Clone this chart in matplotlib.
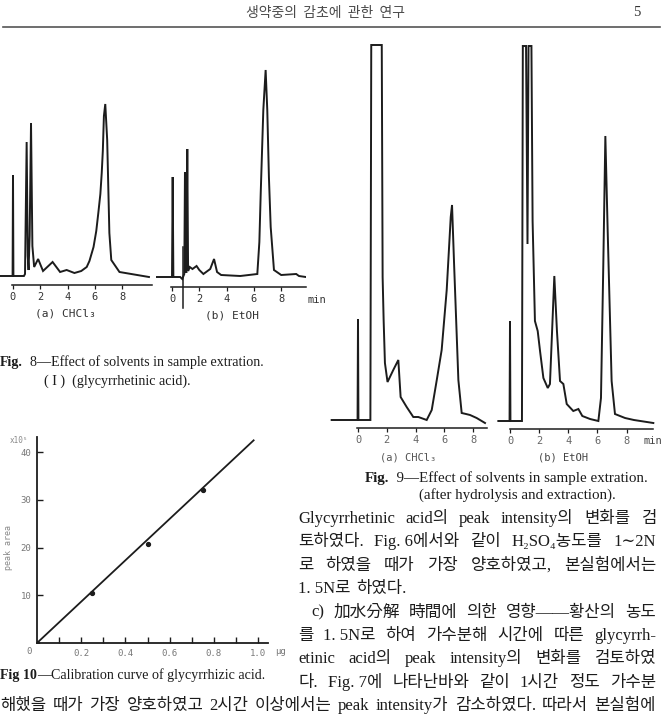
import matplotlib
matplotlib.use('Agg')
import matplotlib.pyplot as plt

W, H = 663, 720

# ---- data ----
# Fig 8 (a) CHCl3 : retention time (min) vs pen height above baseline (chart units)
f8a_t = [-0.95, -0.03, 0.0, 0.03, 0.80, 0.88, 1.0, 1.08, 1.14, 1.22, 1.32, 1.42, 1.55, 1.84,
         2.2, 2.9, 3.45, 3.93, 4.5, 5.0, 5.4, 5.6, 5.9, 6.1, 6.25, 6.4, 6.5, 6.58, 6.66, 6.76,
         6.9, 7.06, 7.2, 7.8, 9.96]
f8a_h = [0, 0, 101, 0, 0, 2, 134, 20, 6, 40, 153, 30, 9, 17,
         5, 14, 4, 6, 3, 5, 9, 15, 29, 45, 63, 82, 103, 125, 160, 172,
         136, 43, 16, 4, -1]
# Fig 8 (b) EtOH
f8b_t = [-1.1, 0.0, 0.05, 0.1, 0.6, 0.75, 0.9, 0.95, 1.0, 1.06, 1.12, 1.18, 1.3, 1.5, 1.8,
         2.0, 2.3, 2.8, 3.08, 3.3, 3.6, 5.0, 6.25, 6.4, 6.5, 6.69, 6.86, 6.98, 7.1, 7.23,
         7.47, 8.0, 9.1, 9.3, 9.8]
f8b_h = [0, 0, 100, 0, 0, -2, 3, 105, 5, 5, 128, 6, 10, 8, 11,
         7, 3, 8, 18, 5, 2, 1, 3, 35, 84, 167, 207, 167, 100, 50,
         7, 2, 3, 1, 0]
f8b_mark_t = [0.83, 0.83]
f8b_mark_h = [-31, 30]
# Fig 9 (a) CHCl3
f9a_t = [-1.83, -0.03, 0.0, 0.03, 0.86, 0.92, 1.02, 1.65, 1.71, 1.78, 1.87, 2.05, 2.45, 2.8,
         2.96, 3.38, 3.84, 4.19, 4.77, 5.12, 5.47, 5.81, 6.16, 6.44, 6.53, 6.67, 6.97, 7.2,
         7.5, 7.78, 8.24, 8.82]
f9a_h = [0, 0, 101, 0, 0, 375, 375, 375, 143, 100, 57, 38, 50, 60,
         23, 13, 3, 3, 0, 10, 40, 70, 130, 203, 215, 157, 40, 7,
         6, 5, 2, -3]
# Fig 9 (b) EtOH
f9b_t = [-0.8, -0.03, 0.0, 0.03, 0.82, 0.88, 1.1, 1.2, 1.27, 1.47, 1.55, 1.71, 1.9, 2.06,
         2.29, 2.59, 2.74, 3.04, 3.22, 3.43, 3.66, 3.89, 4.34, 4.69, 4.96, 5.49, 6.06, 6.24,
         6.4, 6.54, 6.7, 6.97, 7.2, 7.89, 8.5, 9.83]
f9b_h = [0, 0, 100, 0, 0, 375, 375, 177, 375, 375, 200, 100, 90, 70,
         43, 33, 37, 145, 90, 40, 37, 17, 10, 12, 5, 2, 0, 23,
         157, 285, 190, 40, 7, 3, 1, -2]
min_ticks = [0, 2, 4, 6, 8]

# Fig 10 calibration curve
amount_ug = [0, 0.25, 0.5, 0.75]
peak_area = [0, 10.5, 20.8, 32.0]
fit_x = [0, 0.98]
fit_y = [0, 42.5]
x_ticks = [0.1, 0.2, 0.3, 0.4, 0.5, 0.6, 0.7, 0.8, 0.9, 1.0]
x_labels = ['', '0.2', '', '0.4', '', '0.6', '', '0.8', '', '1.0']
y_ticks = [10, 20, 30, 40]

# page text
header = '생약중의  감초에  관한  연구'
page_no = '5'
body_lines = [
    ['Glycyrrhetinic', 'acid의', 'peak', 'intensity의', '변화를', '검'],
    ['토하였다.', 'Fig. 6에서와', '같이', 'H₂SO₄농도를', '1∼2N'],
    ['로', '하였을', '때가', '가장', '양호하였고,', '본실험에서는'],
    ['1. 5N로', '하였다.'],
    ['c)', '加水分解', '時間에', '의한', '영향——황산의', '농도'],
    ['를', '1. 5N로', '하여', '가수분해', '시간에', '따른', 'glycyrrh-'],
    ['etinic', 'acid의', 'peak', 'intensity의', '변화를', '검토하였'],
    ['다.', 'Fig. 7에', '나타난바와', '같이', '1시간', '정도', '가수분'],
]
last_line = ['해했을', '때가', '가장', '양호하였고', '2시간', '이상에서는', 'peak',
             'intensity가', '감소하였다.', '따라서', '본실험에']

SERIF = ['Liberation Serif', 'Noto Sans CJK KR', 'DejaVu Serif']
MONO = ['DejaVu Sans Mono']
INK = '#1c1c1c'

fig = plt.figure(figsize=(W / 100, H / 100), dpi=100)
fig.patch.set_facecolor('white')
rend = fig.canvas.get_renderer()


def fx(x, y):
    return x / W, 1 - y / H


def box(x0, y0, x1, y1):
    return [x0 / W, 1 - y1 / H, (x1 - x0) / W, (y1 - y0) / H]


def chain(segs, x, y, size):
    # segments of (text, weight) written one after another on a baseline
    for s, wt in segs:
        t = fig.text(*fx(x, y), s, fontsize=size, family=SERIF, weight=wt,
                     color=INK, va='baseline')
        x += t.get_window_extent(rend).width


def line_of(tokens, x0, x1, y, size=12, justify=True):
    texts = [fig.text(0, 0, s, fontsize=size, family=SERIF, color=INK, va='baseline')
             for s in tokens]
    ws = [t.get_window_extent(rend).width for t in texts]
    if justify and len(texts) > 1:
        gap = (x1 - x0 - sum(ws)) / (len(texts) - 1)
    else:
        gap = size * 0.45
    x = x0
    for t, w in zip(texts, ws):
        t.set_position(fx(x, y))
        x += w + gap


def chrom(x0, x1, ytop, ybot, t0, ppm, base, axis_y, bounds, t, h, tick_col):
    ax = fig.add_axes(box(x0, ytop, x1, ybot))
    ax.patch.set_alpha(0)
    ax.set_xlim((x0 - t0) / ppm, (x1 - t0) / ppm)
    ax.set_ylim(base - ybot, base - ytop)
    ax.plot(t, h, color=INK, lw=1.4, solid_joinstyle='miter')
    for s in ['top', 'right', 'left']:
        ax.spines[s].set_visible(False)
    ax.spines['bottom'].set_position(('data', base - axis_y))
    ax.spines['bottom'].set_bounds(*bounds)
    ax.spines['bottom'].set_linewidth(1.1)
    ax.spines['bottom'].set_color(INK)
    ax.set_yticks([])
    ax.set_xticks(min_ticks)
    ax.set_xticklabels([str(v) for v in min_ticks], family=MONO, fontsize=7.5, color=tick_col)
    ax.tick_params(axis='x', direction='out', length=3, width=0.9, pad=2, color=INK)
    return ax


# header
fig.text(*fx(326, 13), header, family=['Noto Sans CJK KR'], fontsize=10,
         color='#4a4a4a', ha='center', va='center')
fig.text(*fx(637, 13), page_no, family=SERIF, fontsize=10.5, color='#333333',
         ha='center', va='center')
fig.add_artist(plt.Line2D([3 / W, 660 / W], [1 - 27 / H, 1 - 27 / H],
                          color='#555555', lw=1.2))

# Fig 8
chrom(0, 155, 55, 320, 13, 13.65, 276, 285, (-0.05, 10.2), f8a_t, f8a_h, '#333333')
ax8b = chrom(155, 306, 55, 320, 172, 13.65, 277, 287, (-0.1, 9.8), f8b_t, f8b_h, '#333333')
ax8b.plot(f8b_mark_t, f8b_mark_h, color=INK, lw=1.1, clip_on=False)
fig.text(*fx(308, 300), 'min', family=MONO, fontsize=7.5, color='#333333', va='center')
fig.text(*fx(35, 313), '(a) CHCl₃', family=MONO, fontsize=8, color='#333333', va='center')
fig.text(*fx(205, 316), '(b) EtOH', family=MONO, fontsize=8, color='#333333', va='center')
chain([('Fig.', 'bold'), ('  8—Effect of solvents in sample extration.', 'normal')], 0, 366, 10.1)
chain([('( I )  (glycyrrhetinic acid).', 'normal')], 44, 385, 10.1)

# Fig 9
chrom(330, 490, 40, 450, 358, 14.4, 420, 428, (-0.1, 8.95), f9a_t, f9a_h, '#666666')
chrom(496, 663, 40, 450, 510, 14.58, 421, 429, (0, 9.8), f9b_t, f9b_h, '#666666')
fig.text(*fx(643, 441), 'min', family=MONO, fontsize=7.5, color='#444444', va='center')
fig.text(*fx(380, 458), '(a) CHCl₃', family=MONO, fontsize=7.5, color='#555555', va='center')
fig.text(*fx(538, 458), '(b) EtOH', family=MONO, fontsize=7.5, color='#444444', va='center')
chain([('Fig.', 'bold'), ('  9—Effect of solvents in sample extration.', 'normal')], 365, 482, 10.8)
chain([('(after hydrolysis and extraction).', 'normal')], 419, 499, 10.8)

# Fig 10
ax = fig.add_axes(box(37, 437, 268, 643))
ax.patch.set_alpha(0)
ax.set_xlim(0, 1.045)
ax.set_ylim(0, 43.2)
ax.plot(fit_x, fit_y, color=INK, lw=1.3)
ax.plot(amount_ug, peak_area, 'o', color=INK, ms=2.8)
for s in ['top', 'right']:
    ax.spines[s].set_visible(False)
for s in ['left', 'bottom']:
    ax.spines[s].set_linewidth(1.3)
    ax.spines[s].set_color(INK)
ax.set_xticks(x_ticks, x_labels, family=MONO, fontsize=6.5, color='#777777')
ax.set_yticks(y_ticks, [str(v) for v in y_ticks], family=MONO, fontsize=6.5, color='#777777')
ax.tick_params(direction='in', length=4, width=1, color=INK, pad=4)
fig.text(*fx(29, 652), '0', family=MONO, fontsize=6.5, color='#777777', ha='center', va='center')
fig.text(*fx(275, 652), 'μg', family=MONO, fontsize=6.5, color='#777777', va='center')
fig.text(*fx(10, 440), 'x10⁵', family=MONO, fontsize=5.5, color='#888888', va='center')
fig.text(*fx(9, 547), 'peak area', family=MONO, fontsize=6, color='#888888',
         rotation=90, ha='center', va='center')
chain([('Fig 10', 'bold'), ('—Calibration curve of glycyrrhizic acid.', 'normal')], 0, 679, 10.1)

# body text, right column + bottom line
for i, toks in enumerate(body_lines):
    y = 523 + i * 23.4
    x0 = 311 if toks[0] == 'c)' else 298
    line_of(toks, x0, 656, y, justify=(i != 3))
line_of(last_line, 0, 656, 710)

fig.savefig('out.png', dpi=100, facecolor='white')
